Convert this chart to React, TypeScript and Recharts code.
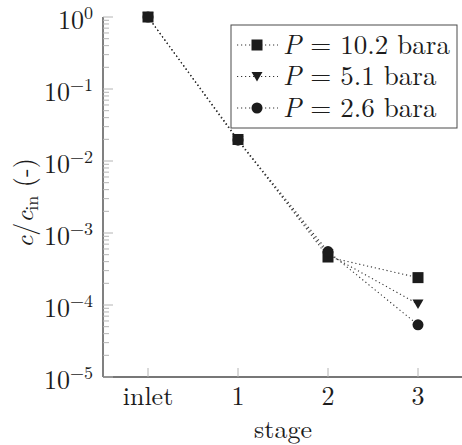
import { LineChart, Line, XAxis, YAxis } from 'recharts'

const stages = ['inlet', '1', '2', '3']
const p102 = [1, 0.0199, 4.64e-4, 2.4e-4]
const p51 = [1, 0.019, 5.1e-4, 1.03e-4]
const p26 = [1, 0.0195, 5.53e-4, 5.3e-5]

const decades = [1e-5, 1e-4, 1e-3, 1e-2, 1e-1, 1]
const minorSteps = [2, 3, 4, 5, 6, 7, 8, 9]
const yTicks = decades.flatMap((d, i) => (i < decades.length - 1 ? [d, ...minorSteps.map((m) => m * d)] : [d]))
const xTicks = [0, 1, 2, 3]

const data = stages.map((s, i) => ({ idx: i, stage: s, p102: p102[i], p51: p51[i], p26: p26[i] }))

const FONT = "'Latin Modern Roman', 'Liberation Serif', serif"
const INK = '#1c1c1c'
const FRAME = '#4a4a4a'
const TICK = '#b4b4b4'
const txt = { fontFamily: FONT }

type Marker = 'square' | 'triangle' | 'circle'

const series: { key: 'p102' | 'p51' | 'p26'; marker: Marker; label: string }[] = [
  { key: 'p102', marker: 'square', label: '10.2' },
  { key: 'p51', marker: 'triangle', label: '5.1' },
  { key: 'p26', marker: 'circle', label: '2.6' },
]

function MarkShape({ kind, cx, cy }: { kind: Marker; cx: number; cy: number }) {
  if (kind === 'square') return <rect x={cx - 5.5} y={cy - 5.5} width={11} height={11} fill={INK} />
  if (kind === 'triangle')
    return <polygon points={`${cx - 5.5},${cy - 4.5} ${cx + 5.5},${cy - 4.5} ${cx},${cy + 5}`} fill={INK} />
  return <circle cx={cx} cy={cy} r={5.5} fill={INK} />
}

const isDecade = (v: number) => Math.abs(Math.log10(v) - Math.round(Math.log10(v))) < 1e-9

function LeftTick(props: any) {
  const { x, y, payload } = props
  const v = payload.value as number
  const major = isDecade(v)
  const exp = Math.round(Math.log10(v))
  return (
    <g>
      <line x1={x} x2={x + (major ? 10 : 6)} y1={y} y2={y} stroke={TICK} strokeWidth={1} />
      {major && (
        <text x={x - 10} y={y + 12} textAnchor="end" style={txt} fontSize={26} fill={INK}>
          10
          <tspan fontSize={18} dy={-10}>
            {exp === 0 ? '0' : `\u2212${-exp}`}
          </tspan>
        </text>
      )}
    </g>
  )
}

function RightTick(props: any) {
  const { x, y, payload } = props
  const major = isDecade(payload.value)
  return <line x1={x - (major ? 10 : 6)} x2={x} y1={y} y2={y} stroke={TICK} strokeWidth={1} />
}

function BottomTick(props: any) {
  const { x, y, payload } = props
  return (
    <g>
      <line x1={x} x2={x} y1={y} y2={y - 9} stroke={TICK} strokeWidth={1} />
      <text x={x} y={y + 28} textAnchor="middle" style={txt} fontSize={26} fill={INK}>
        {stages[payload.value]}
      </text>
    </g>
  )
}

function TopTick(props: any) {
  const { x, y } = props
  return <line x1={x} x2={x} y1={y} y2={y + 9} stroke={TICK} strokeWidth={1} />
}

function LegendBox() {
  return (
    <svg width={228} height={105} style={{ position: 'absolute', left: 230, top: 24 }}>
      <rect x={1} y={1} width={226} height={103} fill="#fff" stroke={FRAME} strokeWidth={1} />
      {series.map((s, i) => {
        const cy = 21 + i * 31.5
        return (
          <g key={s.key}>
            <line x1={7} x2={48} y1={cy} y2={cy} stroke="#333" strokeWidth={1.1} strokeDasharray="1.2 2.8" />
            <MarkShape kind={s.marker} cx={27} cy={cy} />
            <text x={53} y={cy + 8.5} style={txt} fontSize={27} fill={INK}>
              <tspan fontStyle="italic">P</tspan> = {s.label} bara
            </text>
          </g>
        )
      })}
    </svg>
  )
}

export default function App() {
  return (
    <div style={{ position: 'absolute', left: 0, top: 0, width: 462, height: 445, overflow: 'hidden', background: '#fff' }}>
      <LineChart width={464} height={445} data={data} margin={{ top: 17, right: 1, bottom: 0, left: 0 }}>
        <XAxis
          xAxisId="b"
          type="number"
          dataKey="idx"
          domain={[-0.5, 3.5]}
          ticks={xTicks}
          height={68}
          tickSize={0}
          tickMargin={0}
          tickLine={false}
          axisLine={{ stroke: FRAME, strokeWidth: 1.4 }}
          tick={<BottomTick />}
          interval={0}
          label={{
            content: () => (
              <text x={283} y={438} textAnchor="middle" style={txt} fontSize={26} fill={INK}>
                stage
              </text>
            ),
          }}
        />
        <XAxis
          xAxisId="t"
          orientation="top"
          type="number"
          domain={[-0.5, 3.5]}
          ticks={xTicks}
          height={0}
          tickSize={0}
          tickMargin={0}
          tickLine={false}
          axisLine={{ stroke: FRAME, strokeWidth: 1.4 }}
          tick={<TopTick />}
          interval={0}
        />
        <YAxis
          yAxisId="l"
          scale="log"
          domain={[1e-5, 1]}
          ticks={yTicks}
          width={103}
          tickSize={0}
          tickMargin={0}
          tickLine={false}
          axisLine={{ stroke: FRAME, strokeWidth: 1.4 }}
          tick={<LeftTick />}
          interval={0}
          label={{
            content: () => (
              <text
                x={33}
                y={203}
                textAnchor="middle"
                style={txt}
                fontSize={26}
                fill={INK}
                transform="rotate(-90, 33, 203)"
              >
                <tspan fontStyle="italic">c</tspan>/<tspan fontStyle="italic">c</tspan>
                <tspan fontSize={18} dy={5}>
                  in
                </tspan>
                <tspan dy={-5}> (-)</tspan>
              </text>
            ),
          }}
        />
        <YAxis
          yAxisId="r"
          orientation="right"
          scale="log"
          domain={[1e-5, 1]}
          ticks={yTicks}
          width={0}
          tickSize={0}
          tickMargin={0}
          tickLine={false}
          axisLine={{ stroke: FRAME, strokeWidth: 1.4 }}
          tick={<RightTick />}
          interval={0}
        />
        {series.map((s) => (
          <Line
            key={s.key}
            xAxisId="b"
            yAxisId="l"
            type="linear"
            dataKey={s.key}
            stroke="#333"
            strokeWidth={1.1}
            strokeDasharray="1.2 2.8"
            isAnimationActive={false}
            dot={(p: any) => <MarkShape key={`${s.key}-${p.index}`} kind={s.marker} cx={p.cx} cy={p.cy} />}
            activeDot={false}
          />
        ))}
      </LineChart>
      <LegendBox />
    </div>
  )
}
